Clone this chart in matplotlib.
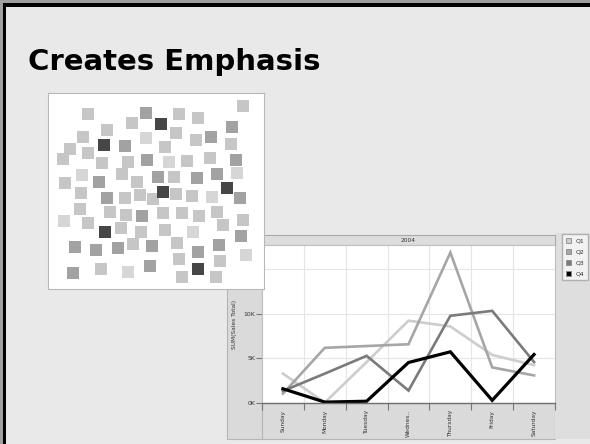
import numpy as np
import matplotlib
matplotlib.use("Agg")
import matplotlib.pyplot as plt
from matplotlib.patches import Rectangle, Patch

W, H = 590, 444

title = "Creates Emphasis"

# squares of the emphasis panel, in panel pixels (origin top-left)
sq_x = [40, 98, 131, 150, 195, 84, 113, 59, 128, 184, 35, 98, 148, 163, 56, 77, 22, 40,
        117, 183, 15, 54, 80, 99, 121, 139, 162, 188, 34, 74, 17, 51, 89, 110, 126, 149,
        169, 189, 33, 59, 77, 92, 105, 115, 128, 144, 164, 179, 192, 32, 62, 78, 94, 115,
        134, 151, 169, 175, 195, 16, 40, 57, 73, 93, 117, 145, 193, 27, 48, 70, 85, 104,
        129, 150, 171, 198, 53, 102, 80, 131, 150, 172, 25, 134, 168]
sq_y = [21, 20, 21, 25, 13, 30, 31, 37, 40, 34, 44, 45, 47, 44, 52, 53, 56, 60,
        54, 51, 66, 70, 69, 67, 69, 68, 65, 67, 82, 81, 90, 89, 89, 84, 84, 85,
        81, 80, 100, 105, 105, 102, 106, 99, 101, 103, 104, 95, 105, 116, 119, 122, 123, 120,
        120, 123, 119, 132, 127, 128, 130, 139, 135, 139, 137, 139, 143, 154, 157, 155, 151, 153,
        150, 159, 152, 162, 176, 173, 179, 166, 176, 168, 180, 184, 184]
sq_shade = ["l", "m", "l", "l", "l", "l", "d", "l", "l", "m", "l", "ll", "l", "m", "d", "m", "l", "l",
            "l", "l", "l", "l", "l", "m", "ll", "l", "l", "m", "ll", "l", "l", "m", "l", "m", "l", "m",
            "m", "ll", "l", "m", "l", "l", "l", "d", "l", "l", "ll", "d", "m", "l", "l", "l", "m", "l",
            "l", "l", "l", "l", "l", "ll", "l", "d", "l", "l", "l", "ll", "m", "m", "m", "m", "l", "m",
            "l", "m", "m", "ll", "l", "m", "ll", "l", "d", "l", "m", "l", "l"]
shade_colors = {"ll": "#d6d6d6", "l": "#c6c6c6", "m": "#a2a2a2", "d": "#464646"}

# sales by weekday, thousands
days = ["Sunday", "Monday", "Tuesday", "Wednes..", "Thursday", "Friday", "Saturday"]
quarters = ["Q1", "Q2", "Q3", "Q4"]
q1 = [3.3, 0.05, 4.6, 9.25, 8.6, 5.4, 4.25]
q2 = [1.05, 6.2, 6.4, 6.6, 16.9, 4.0, 3.1]
q3 = [1.35, 3.3, 5.3, 1.4, 9.8, 10.35, 4.6]
q4 = [1.6, 0.1, 0.2, 4.55, 5.75, 0.3, 5.45]
y_ticks = [0, 5, 10, 15]
y_tick_labels = ["0K", "5K", "10K", "15K"]
year = "2004"

q_colors = ["#cdcdcd", "#a6a6a6", "#7a7a7a", "#000000"]
q_widths = [1.9, 1.9, 1.9, 2.3]


def px_box(x0, y0, x1, y1):
    return [x0 / W, 1 - y1 / H, (x1 - x0) / W, (y1 - y0) / H]


def px_rect(x0, y0, x1, y1, **kw):
    l, b, w, h = px_box(x0, y0, x1, y1)
    return Rectangle((l, b), w, h, transform=fig.transFigure, **kw)


fig = plt.figure(figsize=(W / 100, H / 100), dpi=100, facecolor="#e9e9e9")

# slide border
fig.add_artist(px_rect(0, 0, W, 3, fc="#a0a0a0", ec="none", zorder=10))
fig.add_artist(px_rect(0, 3, W, 7, fc="black", ec="none", zorder=10))
fig.add_artist(px_rect(0, 0, 3, H, fc="#a0a0a0", ec="none", zorder=10))
fig.add_artist(px_rect(3, 3, 6, H, fc="black", ec="none", zorder=10))

fig.text(28 / W, 1 - 70 / H, title, fontsize=21, fontweight="bold",
         va="baseline", ha="left", color="black")

# chart panels
fig.add_artist(px_rect(227, 245, 262, 439, fc="#dadada", ec="#b5b5b5", lw=0.8, zorder=0.5))
fig.add_artist(px_rect(262, 403, 555, 439, fc="#dadada", ec="#b5b5b5", lw=0.8, zorder=0.5))
fig.add_artist(px_rect(555, 233, 591, 439, fc="#dedede", ec="none", zorder=0.5))
fig.add_artist(px_rect(262, 235, 555, 245, fc="#dddddd", ec="#a9a9a9", lw=0.8, zorder=0.5))
fig.text(408.5 / W, 1 - 240 / H, year, fontsize=4.2, ha="center", va="center",
         color="#333333", zorder=0.6)

ax = fig.add_axes(px_box(262, 245, 555, 403), zorder=2)
ax.set_facecolor("white")
x = np.arange(len(days))
for name, vals, c, lw in zip(quarters, [q1, q2, q3, q4], q_colors, q_widths):
    ax.plot(x, vals, color=c, lw=lw, label=name, solid_joinstyle="miter")
ax.set_xlim(-0.5, 6.5)
ax.set_ylim(0, 17.75)
ax.set_xticks(np.arange(-0.5, 7, 1))
ax.set_xticklabels([])
ax.set_xticks(x, minor=True)
ax.set_xticklabels(days, minor=True, rotation=90, fontsize=4.2, va="top", color="#333333")
ax.tick_params(axis="x", which="major", length=5, color="#777777", width=0.8)
ax.tick_params(axis="x", which="minor", length=0, pad=5)
ax.set_yticks(y_ticks, y_tick_labels, fontsize=4.4, color="#333333")
ax.tick_params(axis="y", length=4, color="#777777", width=0.8, pad=1)
ax.grid(axis="x", which="major", color="#e6e6e6", lw=0.8)
ax.grid(axis="y", color="#e6e6e6", lw=0.8)
ax.set_axisbelow(True)
ax.set_ylabel("SUM(Sales Total)", fontsize=4.2, color="#333333")
ax.yaxis.set_label_coords((237 - 262) / 293, 0.5)
for side in ["top", "right", "left"]:
    ax.spines[side].set_color("#c0c0c0")
    ax.spines[side].set_linewidth(0.8)
ax.spines["bottom"].set_color("#6f6f6f")
ax.spines["bottom"].set_linewidth(1.0)

handles = [Patch(fc=c, ec="#8a8a8a", lw=0.6) for c in q_colors]
leg = fig.legend(handles, quarters, loc="upper left", bbox_to_anchor=(562 / W, 1 - 234 / H),
                 fontsize=4.4, frameon=True, fancybox=False, edgecolor="#b0b0b0",
                 facecolor="#f2f2f2", framealpha=1, handlelength=0.9, handleheight=0.9,
                 labelspacing=0.9, borderpad=0.6, handletextpad=0.8, borderaxespad=0)
leg.set_zorder(4)
for t in leg.get_texts():
    t.set_color("#333333")

# emphasis panel with the scattered squares, drawn over the chart corner
sax = fig.add_axes(px_box(48, 93, 264, 289), zorder=5)
sax.set_facecolor("white")
sax.scatter(sq_x, sq_y, marker="s", s=84, c=[shade_colors[s] for s in sq_shade],
            linewidths=0)
sax.set_xlim(0, 216)
sax.set_ylim(196, 0)
sax.set_xticks([])
sax.set_yticks([])
for sp in sax.spines.values():
    sp.set_color("#b8b8b8")
    sp.set_linewidth(0.8)

fig.savefig("out.png", dpi=100, facecolor=fig.get_facecolor())
